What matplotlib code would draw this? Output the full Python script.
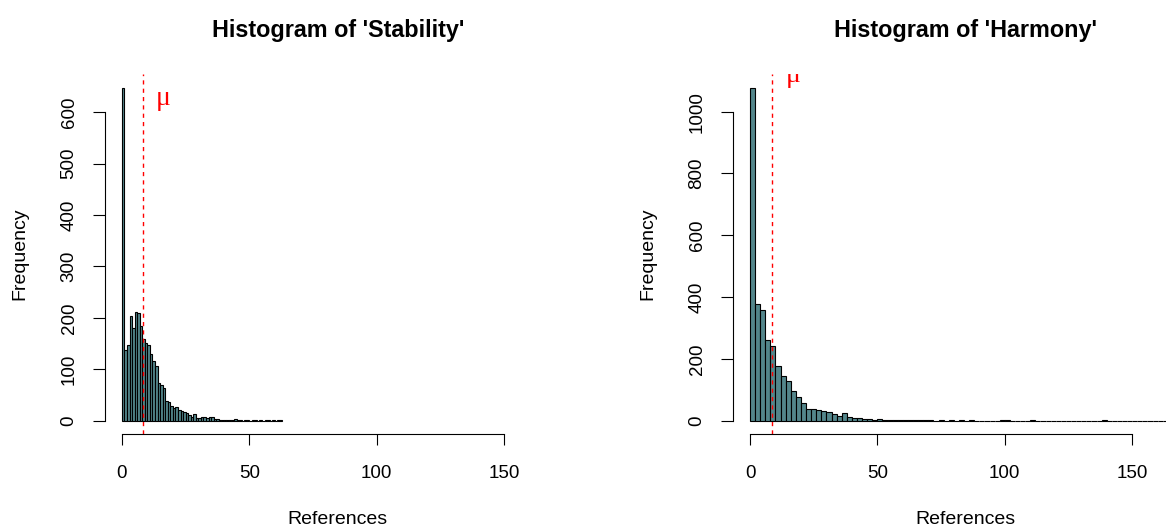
import matplotlib
matplotlib.use("Agg")
import matplotlib.pyplot as plt
import numpy as np

plt.rcParams['font.family'] = ['Liberation Sans', 'DejaVu Sans']

# 'Stability' counts, bins of width 1 starting at 0
stab_counts = [648, 137, 147, 203, 181, 211, 210, 185, 159, 151,
               147, 130, 117, 107, 73, 69, 64, 38, 36, 28,
               25, 27, 20, 18, 17, 15, 11, 8, 13, 6,
               5, 7, 7, 5, 7, 7, 4, 3, 2, 2,
               1, 2, 1, 2, 3, 1, 1, 0, 1, 1,
               0, 1, 1, 0, 1, 0, 1, 1, 0, 1,
               0, 1, 2]
stab_width = 1
stab_mean = 8.4

# 'Harmony' counts, bins of width 2 starting at 0
harm_counts = [1078, 378, 357, 262, 243, 178, 146, 128, 95, 76,
               57, 38, 39, 34, 31, 27, 22, 16, 24, 13,
               10, 9, 5, 4, 3, 4, 3, 2, 2, 3,
               2, 1, 1, 2, 1, 1, 0, 2, 0, 1,
               0, 1, 0, 1, 0, 0, 0, 0, 0, 1,
               1, 0, 0, 0, 0, 1, 0, 0, 0, 0,
               0, 0, 0, 0, 0, 0, 0, 0, 0, 1,
               0, 0, 0, 0, 0, 0, 0, 0, 0, 0,
               0, 0, 0, 0, 0]
harm_width = 2
harm_mean = 8.8

x_ticks = [0, 50, 100, 150]
stab_yticks = [0, 100, 200, 300, 400, 500, 600]
harm_yticks = [0, 200, 400, 600, 800, 1000]

W, H = 1166, 529
fig = plt.figure(figsize=(W / 100, H / 100), dpi=100)

bar_col = '#53868B'
px_per_unit = 2.548
ax_w = 466.4
ax_top, ax_bot = 74.2, 434.0


def draw(left_px, counts, width, mean, yticks, title, mu_y):
    ax = fig.add_axes([left_px / W, 1 - ax_bot / H, ax_w / W, (ax_bot - ax_top) / H])
    edges = np.arange(len(counts)) * width
    ax.bar(edges, counts, width=width, align='edge', color=bar_col,
           edgecolor='black', linewidth=0.8)
    m = max(counts)
    ax.set_ylim(-0.04 * m, 1.04 * m)
    x0 = -17.3 / px_per_unit
    ax.set_xlim(x0, x0 + ax_w / px_per_unit)
    ax.axvline(mean, color='red', lw=1.0, dashes=(3, 3))
    ax.text(mean + 8, mu_y, '\u03bc', color='red', fontsize=20,
            family='Liberation Serif', ha='center', va='center', clip_on=True)
    for s in ['top', 'right']:
        ax.spines[s].set_visible(False)
    ax.spines['left'].set_bounds(yticks[0], yticks[-1])
    ax.spines['bottom'].set_bounds(x_ticks[0], x_ticks[-1])
    for s in ['left', 'bottom']:
        ax.spines[s].set_linewidth(0.8)
    ax.set_xticks(x_ticks)
    ax.set_yticks(yticks)
    ax.tick_params(axis='x', length=8, width=0.8, pad=14, labelsize=13.5)
    ax.tick_params(axis='y', length=8.5, width=0.8, pad=11, labelsize=13.5)
    for lab in ax.get_yticklabels():
        lab.set_rotation(90)
        lab.set_va('center')
    ax.set_title(title, fontsize=16.8, fontweight='bold', pad=27)
    cx = (left_px + ax_w / 2) / W
    fig.text(cx, 1 - 523.5 / H, 'References', ha='center', va='baseline', fontsize=14)
    fig.text((left_px - 84.6) / W, 1 - 254 / H, 'Frequency', rotation=90,
             ha='center', va='center', fontsize=14)
    return ax


draw(104.6, stab_counts, stab_width, stab_mean, stab_yticks,
     "Histogram of 'Stability'", 626)
draw(732.7, harm_counts, harm_width, harm_mean, harm_yticks,
     "Histogram of 'Harmony'", 1118)

fig.savefig('out.png', dpi=100)
